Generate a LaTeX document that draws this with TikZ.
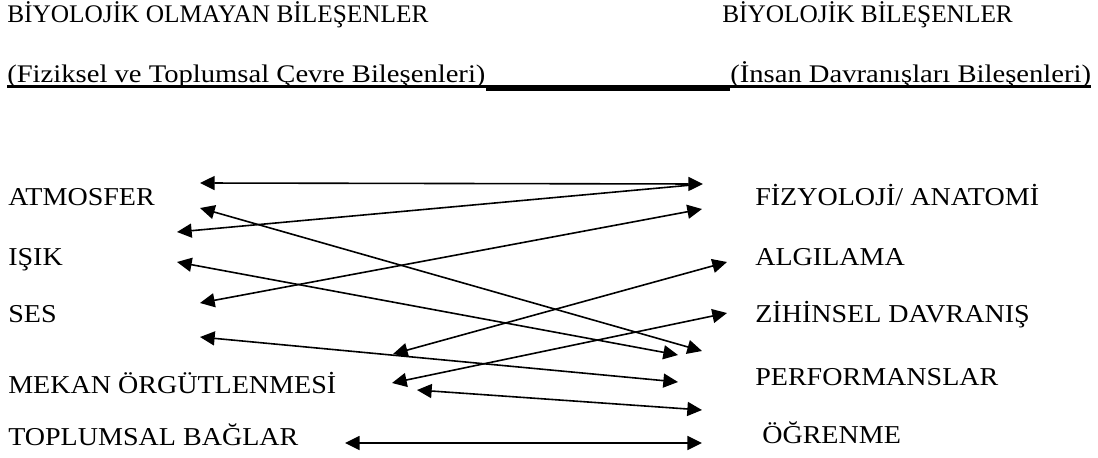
\documentclass[tikz,border=0pt]{standalone}
\usepackage{fontspec}
\setmainfont{Liberation Serif}
\newfontfamily\genisyazi{Liberation Serif}[FakeStretch=1.09]
\newfontfamily\altyazi{Liberation Serif}[FakeStretch=1.13]
\usetikzlibrary{arrows.meta}

\begin{document}
\begin{tikzpicture}[x=0.75pt,y=-0.75pt,
	bas/.style={anchor=base west,inner sep=0pt,font=\fontsize{19}{22}\selectfont},
	alt/.style={anchor=base west,inner sep=0pt,font=\altyazi\fontsize{19}{22}\selectfont},
	lbl/.style={anchor=base west,inner sep=0pt,font=\genisyazi\fontsize{19.3}{22}\selectfont},
	con/.style={{Triangle[length=11pt,width=10.5pt]}-{Triangle[length=11pt,width=10.5pt]},line width=1.2pt},
	conl/.style={{Triangle[length=11pt,width=10.5pt]}-,line width=1.2pt}]
	\useasboundingbox (0,0) rectangle (1098,457);
	% basliklar
	\node[bas] (bas1) at (7,22) {BİYOLOJİK OLMAYAN BİLEŞENLER};
	\node[bas] (bas2) at (722,22) {BİYOLOJİK BİLEŞENLER};
	\node[alt] (alt1) at (7,82) {(Fiziksel ve Toplumsal Çevre Bileşenleri)};
	\node[alt] (alt2) at (730,82) {(İnsan Davranışları Bileşenleri)};
	\draw[line width=1.8pt] ([yshift=-3.4pt]alt1.base west)--([yshift=-3.4pt]alt1.base east);
	\draw[line width=4pt] ([yshift=-4.5pt]alt1.base east)--([yshift=-4.5pt]alt2.base west);
	\draw[line width=1.8pt] ([yshift=-3.4pt]alt2.base west)--([yshift=-3.4pt]alt2.base east);
	% sol sutun
	\node[lbl] (atm) at (8,205) {ATMOSFER};
	\node[lbl] (isik) at (8,265) {IŞIK};
	\node[lbl] (ses) at (8,322) {SES};
	\node[lbl] (mekan) at (8,393) {MEKAN ÖRGÜTLENMESİ};
	\node[lbl] (topl) at (8,445) {TOPLUMSAL BAĞLAR};
	% sag sutun
	\node[lbl] (fiz) at (755,205) {FİZYOLOJİ/ ANATOMİ};
	\node[lbl] (alg) at (755,265) {ALGILAMA};
	\node[lbl] (zih) at (755,322) {ZİHİNSEL DAVRANIŞ};
	\node[lbl] (perf) at (755,385) {PERFORMANSLAR};
	\node[lbl] (ogr) at (762,443) {ÖĞRENME};
	% ok uclari
	\coordinate (atm1) at (200,183); \coordinate (fiz1) at (703,184);
	\coordinate (isik1) at (177,232); \coordinate (fiz2) at (692,185);
	\coordinate (atm2) at (200,208); \coordinate (perf1) at (702,351);
	\coordinate (ses1) at (200,303); \coordinate (fiz3) at (702,209);
	\coordinate (mekan1) at (393,354); \coordinate (alg1) at (727,262);
	\coordinate (isik2) at (177,262); \coordinate (perf2) at (678,355);
	\coordinate (ses2) at (200,337); \coordinate (perf3) at (678,382);
	\coordinate (mekan2) at (392,383); \coordinate (zih1) at (727,313);
	\coordinate (mekan3) at (417,390); \coordinate (ogr1) at (702,410);
	\coordinate (topl1) at (345,443); \coordinate (ogr2) at (702,443);
	\draw[con] (atm1)--(fiz1);
	\draw[conl] (isik1)--(fiz2);
	\draw[con] (atm2)--(perf1);
	\draw[con] (ses1)--(fiz3);
	\draw[con] (mekan1)--(alg1);
	\draw[con] (isik2)--(perf2);
	\draw[con] (ses2)--(perf3);
	\draw[con] (mekan2)--(zih1);
	\draw[con] (mekan3)--(ogr1);
	\draw[con] (topl1)--(ogr2);
\end{tikzpicture}
\end{document}
